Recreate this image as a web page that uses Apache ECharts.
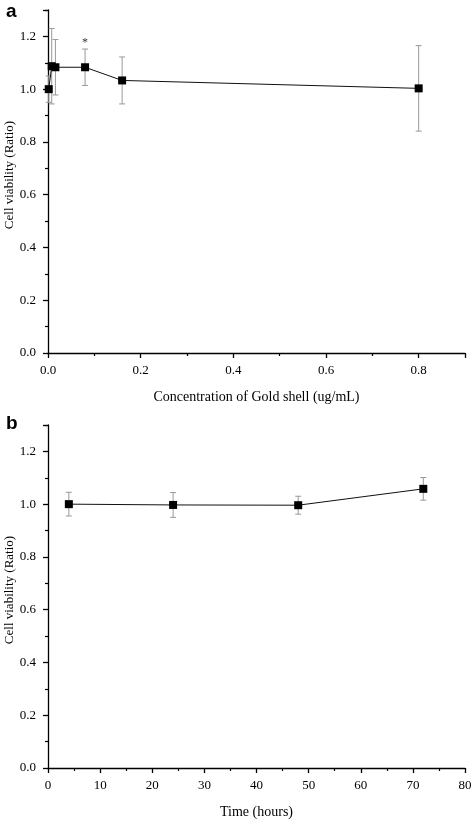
<!DOCTYPE html>
<html><head><meta charset="utf-8">
<script src="https://cdn.jsdelivr.net/npm/echarts@6/dist/echarts.min.js"></script>
<style>html,body{margin:0;padding:0;background:#fff}#c{width:472px;height:821px}</style>
</head><body><div id="c"></div>
<script>
// Panel a: concentration
const concX = [0.0016, 0.008, 0.016, 0.08, 0.16, 0.8];
const concY = [1.0, 1.087, 1.083, 1.083, 1.033, 1.003];
const concErr = [0.05, 0.143, 0.105, 0.069, 0.089, 0.162];
const starPoint = [[0.08, 1.177]];
// Panel b: time
const timeX = [4, 24, 48, 72];
const timeY = [1.0, 0.997, 0.996, 1.058];
const timeErr = [0.045, 0.047, 0.034, 0.043];

const serif = 'Liberation Serif';
const axisColor = '#000';

function pairs(xs, ys){ return xs.map((x,i)=>[x, ys[i]]); }
function errData(xs, ys, es){ return xs.map((x,i)=>[x, ys[i]-es[i], ys[i]+es[i]]); }

function errRender(params, api){
  const x = api.value(0);
  const lo = api.coord([x, api.value(1)]);
  const hi = api.coord([x, api.value(2)]);
  const w = 3;
  const st = {stroke:'#999', lineWidth:1};
  return {type:'group', children:[
    {type:'line', shape:{x1:lo[0],y1:lo[1],x2:hi[0],y2:hi[1]}, style:st},
    {type:'line', shape:{x1:lo[0]-w,y1:lo[1],x2:lo[0]+w,y2:lo[1]}, style:st},
    {type:'line', shape:{x1:hi[0]-w,y1:hi[1],x2:hi[0]+w,y2:hi[1]}, style:st}
  ]};
}

function xAxisCfg(gi, max, interval, name, fmt){
  return {
    type:'value', gridIndex:gi, min:0, max:max, interval:interval,
    name:name, nameLocation:'middle', nameGap:37, nameMoveOverlap:false,
    nameTextStyle:{fontFamily:serif, fontSize:14, color:'#000'},
    axisLine:{show:true, onZero:false, lineStyle:{color:axisColor, width:1.3}},
    axisTick:{show:true, inside:false, length:5, lineStyle:{color:axisColor, width:1.3}},
    minorTick:{show:true, splitNumber:2, length:3, lineStyle:{color:axisColor, width:1.2}},
    splitLine:{show:false},
    axisLabel:{fontFamily:serif, fontSize:13, color:'#000', margin:11,
      formatter:function(v){ if (Math.abs(v/interval - Math.round(v/interval))>1e-6) return ''; return fmt(v); }}
  };
}
function yAxisCfg(gi){
  return {
    type:'value', gridIndex:gi, min:0, max:1.3, interval:0.2,
    name:'{g|}Cell viability (Ratio)', nameLocation:'middle', nameGap:32, nameMoveOverlap:false,
    nameTextStyle:{fontFamily:serif, fontSize:13, color:'#000',
      rich:{g:{width:13}}},
    axisLine:{show:true, onZero:false, lineStyle:{color:axisColor, width:1.3}},
    axisTick:{show:true, inside:false, length:5, lineStyle:{color:axisColor, width:1.3}},
    minorTick:{show:true, splitNumber:2, length:3, lineStyle:{color:axisColor, width:1.2}},
    splitLine:{show:false},
    axisLabel:{fontFamily:serif, fontSize:13, color:'#000', margin:12,
      formatter:function(v){ if (Math.abs(v/0.2 - Math.round(v/0.2))>1e-6) return ''; return v.toFixed(1); }}
  };
}

const chart = echarts.init(document.getElementById('c'), null, {renderer:'canvas'});
chart.setOption({
  animation:false,
  backgroundColor:'#fff',
  title:[
    {text:'a', left:1, top:-3, textStyle:{fontFamily:'Liberation Sans', fontWeight:'bold', fontSize:19, color:'#000'}},
    {text:'b', left:1, top:409, textStyle:{fontFamily:'Liberation Sans', fontWeight:'bold', fontSize:19, color:'#000'}}
  ],
  grid:[
    {left:48, top:10, width:417, height:343, containLabel:false, outerBoundsMode:'none'},
    {left:48, top:425, width:417, height:343, containLabel:false, outerBoundsMode:'none'}
  ],
  xAxis:[
    xAxisCfg(0, 0.9, 0.2, 'Concentration of Gold shell (ug/mL)', v=>v.toFixed(1)),
    xAxisCfg(1, 80, 10, 'Time (hours)', v=>String(Math.round(v)))
  ],
  yAxis:[yAxisCfg(0), yAxisCfg(1)],
  series:[
    {type:'custom', xAxisIndex:0, yAxisIndex:0, renderItem:errRender, data:errData(concX, concY, concErr), z:1},
    {type:'line', xAxisIndex:0, yAxisIndex:0, data:pairs(concX, concY), symbol:'rect', symbolSize:8,
      itemStyle:{color:'#000'}, lineStyle:{color:'#111', width:1}, z:3},
    {type:'scatter', xAxisIndex:0, yAxisIndex:0, data:starPoint, symbolSize:0.1,
      label:{show:true, position:'inside', formatter:'*', fontFamily:serif, fontSize:12, color:'#000'}, z:4},
    {type:'custom', xAxisIndex:1, yAxisIndex:1, renderItem:errRender, data:errData(timeX, timeY, timeErr), z:1},
    {type:'line', xAxisIndex:1, yAxisIndex:1, data:pairs(timeX, timeY), symbol:'rect', symbolSize:8,
      itemStyle:{color:'#000'}, lineStyle:{color:'#111', width:1}, z:3}
  ]
});
</script></body></html>
